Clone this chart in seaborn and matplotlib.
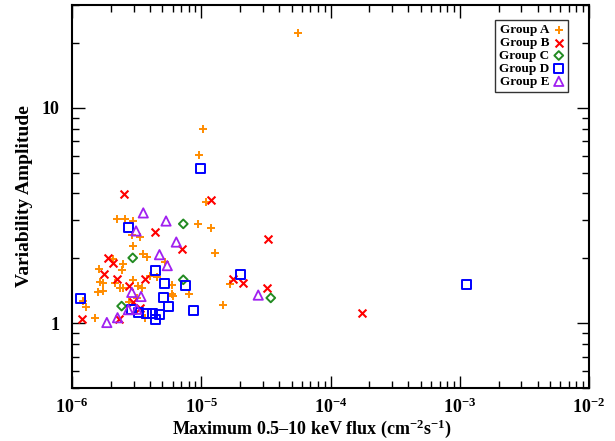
import numpy as np
import pandas as pd
import matplotlib
matplotlib.use("Agg")
import matplotlib.pyplot as plt
import matplotlib.ticker as mticker
import seaborn as sns

# ---------------- data ----------------
groups = ["Group A", "Group B", "Group C", "Group D", "Group E"]

a_flux = [5.61e-5, 1.04e-5, 9.66e-6, 1.09e-5, 2.24e-6, 2.57e-6, 2.95e-6, 9.49e-6, 1.20e-5,
          2.89e-6, 3.36e-6, 2.95e-6, 1.28e-5, 3.56e-6, 3.80e-6, 2.06e-6, 2.49e-6, 2.42e-6,
          1.63e-6, 5.24e-6, 4.51e-6, 1.65e-6, 1.73e-6, 2.15e-6, 2.35e-6, 2.48e-6, 2.98e-6,
          3.26e-6, 3.46e-6, 5.97e-6, 5.89e-6, 6.08e-6, 8.08e-6, 1.67e-5, 1.47e-5, 1.60e-6,
          1.73e-6, 1.22e-6, 1.28e-6, 1.51e-6, 3.64e-6, 3.17e-6, 2.76e-6, 4.01e-6]
a_amp = [22.2, 8.0, 6.06, 3.66, 3.05, 3.05, 2.97, 2.89, 2.77,
         2.56, 2.51, 2.29, 2.11, 2.10, 2.02, 1.99, 1.89, 1.77,
         1.78, 1.92, 1.64, 1.56, 1.54, 1.53, 1.46, 1.46, 1.58,
         1.49, 1.46, 1.51, 1.36, 1.34, 1.36, 1.52, 1.215, 1.40,
         1.41, 1.27, 1.19, 1.06, 1.06, 1.315, 1.25, 1.65]

b_flux = [2.54e-6, 1.20e-5, 4.39e-6, 7.16e-6, 1.91e-6, 2.08e-6, 1.78e-6, 2.24e-6, 2.77e-6,
          3.67e-6, 1.75e-5, 2.11e-5, 2.95e-6, 3.36e-6, 2.29e-6, 1.20e-6, 3.30e-5, 3.21e-5,
          1.74e-4]
b_amp = [3.96, 3.75, 2.65, 2.22, 2.00, 1.91, 1.70, 1.60, 1.48,
         1.60, 1.61, 1.54, 1.25, 1.18, 1.05, 1.05, 2.45, 1.45,
         1.12]

c_flux = [7.26e-6, 2.95e-6, 7.26e-6, 2.42e-6, 3.45e-5]
c_amp = [2.89, 2.01, 1.59, 1.20, 1.31]

d_flux = [9.90e-6, 2.76e-6, 4.39e-6, 5.17e-6, 2.03e-5, 7.58e-6, 5.09e-6, 1.16e-6, 5.58e-6,
          8.68e-6, 2.90e-6, 3.26e-6, 3.74e-6, 4.21e-6, 4.73e-6, 4.41e-6, 1.13e-3]
d_amp = [5.22, 2.77, 1.76, 1.53, 1.69, 1.49, 1.32, 1.30, 1.19,
         1.15, 1.155, 1.12, 1.11, 1.11, 1.10, 1.04, 1.51]

e_flux = [3.56e-6, 5.34e-6, 3.13e-6, 6.41e-6, 4.75e-6, 5.46e-6, 2.90e-6, 3.42e-6, 2.73e-6,
          3.17e-6, 2.25e-6, 1.86e-6, 2.76e-5]
e_amp = [3.25, 2.98, 2.68, 2.38, 2.08, 1.85, 1.39, 1.33, 1.155,
         1.16, 1.06, 1.007, 1.35]

fluxes = [a_flux, b_flux, c_flux, d_flux, e_flux]
amps = [a_amp, b_amp, c_amp, d_amp, e_amp]

x_label = "Maximum 0.5\u201310 keV flux (cm$^{-2}$s$^{-1}$)"
y_label = "Variability Amplitude"

# ---------------- style ----------------
sns.set_style("ticks")
plt.rcParams["font.family"] = ["Liberation Serif", "DejaVu Serif"]
plt.rcParams["font.weight"] = "bold"
plt.rcParams["text.color"] = "black"
plt.rcParams["axes.labelcolor"] = "black"
plt.rcParams["xtick.color"] = "black"
plt.rcParams["ytick.color"] = "black"
plt.rcParams["mathtext.fontset"] = "custom"
plt.rcParams["mathtext.rm"] = "Liberation Serif:bold"
plt.rcParams["mathtext.it"] = "Liberation Serif:bold:italic"
plt.rcParams["mathtext.bf"] = "Liberation Serif:bold"
plt.rcParams["mathtext.default"] = "rm"

styles = {
    "Group A": dict(marker="+", color="#ff8c00", s=40, linewidths=1.4),
    "Group B": dict(marker="x", color="#ff0000", s=32, linewidths=1.5),
    "Group C": dict(marker="D", color="#228b22", s=20, linewidths=1.4, facecolor="none", edgecolor="#228b22"),
    "Group D": dict(marker="s", color="#0000ff", s=42, linewidths=1.4, facecolor="none", edgecolor="#0000ff"),
    "Group E": dict(marker="^", color="#a020f0", s=45, linewidths=1.3, facecolor="none", edgecolor="#a020f0"),
}

fig = plt.figure(figsize=(6.15, 4.41), dpi=100)
ax = fig.add_axes([72 / 615, 53 / 441, 517 / 615, 383 / 441])

for g, fx, am in zip(groups, fluxes, amps):
    df = pd.DataFrame({"flux": fx, "amp": am})
    sns.scatterplot(data=df, x="flux", y="amp", ax=ax, label=g, **styles[g])

ax.set_xscale("log")
ax.set_yscale("log")
ax.set_xlim(1e-6, 1e-2)
ax.set_ylim(0.5, 30)

ax.set_xlabel(x_label, fontsize=13, fontweight="bold", labelpad=2)
ax.xaxis.set_label_coords(0.465, -0.076)
ax.set_ylabel(y_label, fontsize=14, fontweight="bold", labelpad=6)

ax.xaxis.set_major_locator(mticker.LogLocator(base=10, numticks=10))
ax.xaxis.set_minor_locator(mticker.LogLocator(base=10, subs=np.arange(2, 10), numticks=20))
ax.xaxis.set_minor_formatter(mticker.NullFormatter())
ax.yaxis.set_major_locator(mticker.FixedLocator([1, 10]))
ax.yaxis.set_major_formatter(mticker.FixedFormatter(["1", "10"]))
ax.yaxis.set_minor_locator(mticker.LogLocator(base=10, subs=np.arange(2, 10), numticks=20))
ax.yaxis.set_minor_formatter(mticker.NullFormatter())

ax.tick_params(which="both", direction="in", top=True, right=True, colors="black",
               labelsize=13, width=1.0)
ax.tick_params(axis="x", which="major", pad=7)
ax.tick_params(axis="y", which="major", pad=9)
ax.tick_params(which="major", length=9)
ax.tick_params(which="minor", length=5)
for sp in ax.spines.values():
    sp.set_linewidth(1.5)
    sp.set_color("black")
    sp.set_visible(True)

leg = ax.legend(loc="upper right", bbox_to_anchor=((568 - 72) / 517, 1 - 15 / 383),
                bbox_transform=ax.transAxes, markerfirst=False, frameon=True, fancybox=False,
                fontsize=9.5, handlelength=0.8, handletextpad=0.3, labelspacing=0.05,
                borderpad=0.3, borderaxespad=0.0)
leg.get_frame().set_edgecolor("black")
leg.get_frame().set_linewidth(1.0)
for t in leg.get_texts():
    t.set_fontweight("bold")
    t.set_color("black")

fig.savefig("out.png", dpi=100)
